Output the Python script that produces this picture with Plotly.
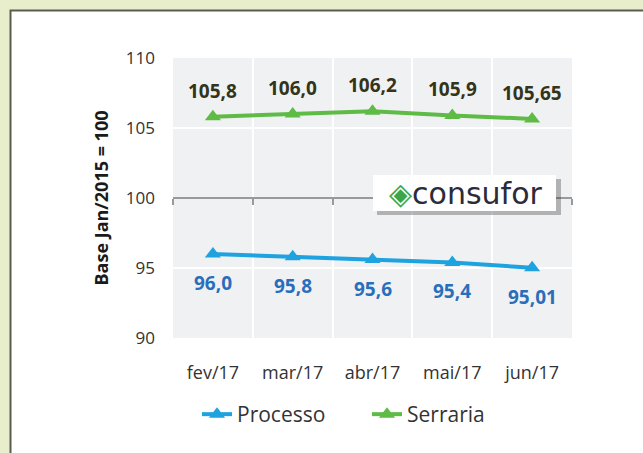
import plotly.graph_objects as go

categories = ["fev/17", "mar/17", "abr/17", "mai/17", "jun/17"]
processo = [96.0, 95.8, 95.6, 95.4, 95.01]
serraria = [105.8, 106.0, 106.2, 105.9, 105.65]
processo_labels = ["96,0", "95,8", "95,6", "95,4", "95,01"]
serraria_labels = ["105,8", "106,0", "106,2", "105,9", "105,65"]
y_ticks = [90, 95, 100, 105, 110]

FONT = "Open Sans"
xs = list(range(len(categories)))
bounds = [i - 0.5 for i in range(len(categories) + 1)]

W, H = 643, 453
L, R, T, B = 173, 71, 58, 115
PW, PH = W - L - R, H - T - B


def px(xpix):
    return (xpix - L) / PW


def py(ypix):
    return (H - B - ypix) / PH


fig = go.Figure()
fig.add_trace(go.Scatter(
    x=xs, y=processo, name="Processo", mode="lines+markers",
    line=dict(color="#1ea3e0", width=4),
    marker=dict(symbol="triangle-up", size=14, color="#1ea3e0"),
))
fig.add_trace(go.Scatter(
    x=xs, y=serraria, name="Serraria", mode="lines+markers",
    line=dict(color="#5dbb46", width=4),
    marker=dict(symbol="triangle-up", size=14, color="#5dbb46"),
))
# invisible trace to carry the crossing axis at 100
fig.add_trace(go.Scatter(x=[bounds[0], bounds[-1]], y=[100, 100], xaxis="x2",
                         mode="lines", line=dict(width=0), showlegend=False,
                         hoverinfo="skip"))

annotations = []
for x, v, t in zip(xs, serraria, serraria_labels):
    annotations.append(dict(x=x, y=v, text=f"<b>{t}</b>", showarrow=False,
                            yshift=26, font=dict(family=FONT, size=19, color="#33341a")))
for x, v, t in zip(xs, processo, processo_labels):
    annotations.append(dict(x=x, y=v, text=f"<b>{t}</b>", showarrow=False,
                            yshift=-29, font=dict(family=FONT, size=19, color="#2a6ebb")))
# logo text
annotations.append(dict(x=px(466), y=py(193), xref="paper", yref="paper",
                        xanchor="center", yanchor="middle",
                        text='<span style="color:#3aa84a;font-size:30px">◈</span>consufor',
                        showarrow=False,
                        font=dict(family="DejaVu Sans", size=30, color="#2b2b3a")))

shapes = [
    # white panel with dark left/top border
    dict(type="rect", xref="paper", yref="paper", x0=px(10.5), x1=px(900),
         y0=py(900), y1=py(10.5), fillcolor="white",
         line=dict(color="#5a5c50", width=2), layer="below"),
    # plot area background
    dict(type="rect", xref="paper", yref="paper", x0=0, x1=1, y0=0, y1=1,
         fillcolor="#f0f1f3", line=dict(width=0), layer="below"),
    # logo shadow and box
    dict(type="rect", xref="paper", yref="paper", x0=px(377), x1=px(561),
         y0=py(215), y1=py(179), fillcolor="rgba(60,60,60,0.35)",
         line=dict(width=0), layer="above"),
    dict(type="rect", xref="paper", yref="paper", x0=px(373), x1=px(556),
         y0=py(211), y1=py(175), fillcolor="white",
         line=dict(width=0), layer="above"),
]

fig.update_layout(
    width=W, height=H,
    margin=dict(l=L, r=R, t=T, b=B, autoexpand=False),
    paper_bgcolor="#e8eecb",
    plot_bgcolor="#f0f1f3",
    font=dict(family=FONT, color="#333333"),
    showlegend=True,
    legend=dict(orientation="h", x=px(197), xanchor="left", y=py(394), yanchor="top",
                font=dict(family=FONT, size=21, color="#333333"),
                bgcolor="rgba(0,0,0,0)", entrywidth=125),
    shapes=shapes,
    annotations=annotations,
    xaxis=dict(range=[bounds[0], bounds[-1]], tickvals=xs, ticktext=categories,
               showgrid=False, zeroline=False, showline=False, ticks="",
               tickfont=dict(family=FONT, size=18, color="#333333"),
               ticklabelstandoff=22,
               minor=dict(tickvals=bounds[1:-1], showgrid=True, gridcolor="white", gridwidth=2)),
    xaxis2=dict(range=[bounds[0], bounds[-1]], overlaying="x", anchor="free", position=0.5,
                side="bottom", showline=True, linecolor="#9a9a9a", linewidth=2,
                tickvals=bounds, ticks="outside", ticklen=6, tickwidth=2, tickcolor="#9a9a9a",
                showticklabels=False, showgrid=False, zeroline=False),
    yaxis=dict(range=[90, 110], tickvals=y_ticks, showgrid=True, gridcolor="white",
               gridwidth=2, zeroline=False, showline=False,
               tickfont=dict(family=FONT, size=17, color="#333333"),
               ticklabelstandoff=17,
               title=dict(text="<b>Base Jan/2015 = 100</b>", standoff=12,
                          font=dict(family=FONT, size=18, color="#1a1a1a"))),
)

fig.write_html("out.html", config={"displayModeBar": False},
               post_script="document.body.style.margin='0';")
